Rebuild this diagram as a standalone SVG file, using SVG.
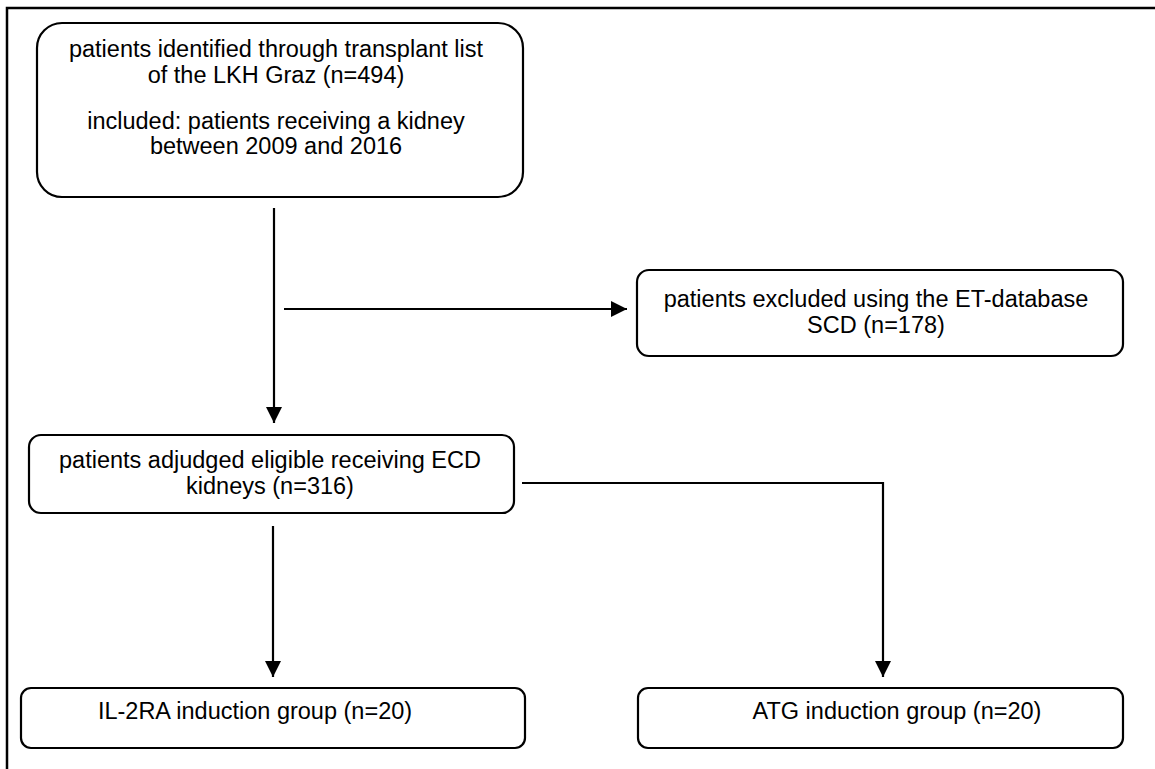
<svg xmlns="http://www.w3.org/2000/svg" width="1155" height="769" viewBox="0 0 1155 769">
  <defs>
    <style>
      .box { fill: #ffffff; stroke: #000000; stroke-width: 2.2; }
      .t { font-family: "Liberation Sans", Arial, sans-serif; font-size: 23.5px; fill: #000000; text-anchor: middle; }
      .conn { fill: none; stroke: #000000; stroke-width: 2.2; }
      .frame { fill: none; stroke: #000000; stroke-width: 2.5; }
    </style>
    <marker id="arrow" viewBox="0 0 16 16" refX="16" refY="8" markerWidth="16" markerHeight="16" markerUnits="userSpaceOnUse" orient="auto">
      <path d="M0,0 L16,8 L0,16 Z" fill="#000000"/>
    </marker>
  </defs>
  <rect width="1155" height="769" fill="#ffffff"/>
  <path class="frame" d="M7,769 L7,8 L1155,8"/>

  <g id="connectors">
    <line class="conn" x1="274" y1="208" x2="274" y2="423" marker-end="url(#arrow)"/>
    <line class="conn" x1="284" y1="309" x2="627" y2="309" marker-end="url(#arrow)"/>
    <line class="conn" x1="273" y1="526" x2="273" y2="677" marker-end="url(#arrow)"/>
    <polyline class="conn" points="522,483 883,483 883,677" marker-end="url(#arrow)"/>
  </g>

  <g id="node-identified">
    <rect class="box" x="37" y="23" width="486" height="174" rx="25" ry="25"/>
    <text class="t" x="276" y="57">patients identified through transplant list</text>
    <text class="t" x="276" y="83">of the LKH Graz (n=494)</text>
    <text class="t" x="276" y="129">included: patients receiving a kidney</text>
    <text class="t" x="276" y="154">between 2009 and 2016</text>
  </g>

  <g id="node-excluded">
    <rect class="box" x="637" y="270" width="486" height="86" rx="12" ry="12"/>
    <text class="t" x="876" y="307">patients excluded using the ET-database</text>
    <text class="t" x="876" y="333">SCD (n=178)</text>
  </g>

  <g id="node-eligible">
    <rect class="box" x="29" y="435" width="485" height="78" rx="12" ry="12"/>
    <text class="t" x="270" y="468">patients adjudged eligible receiving ECD</text>
    <text class="t" x="270" y="494">kidneys (n=316)</text>
  </g>

  <g id="node-il2ra">
    <rect class="box" x="21" y="688" width="504" height="60" rx="10" ry="10"/>
    <text class="t" x="255" y="719">IL-2RA induction group (n=20)</text>
  </g>

  <g id="node-atg">
    <rect class="box" x="638" y="688" width="485" height="60" rx="10" ry="10"/>
    <text class="t" x="897" y="719">ATG induction group (n=20)</text>
  </g>
</svg>
